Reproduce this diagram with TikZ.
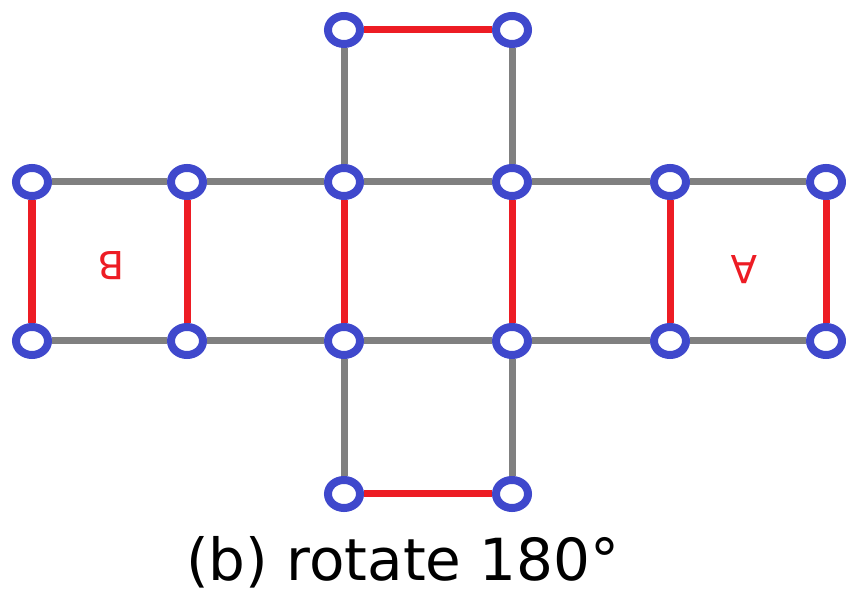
\documentclass[tikz,border=0pt]{standalone}
\usepackage{fontspec}
\setmainfont{DejaVu Sans}
\usetikzlibrary{shapes.geometric}
\definecolor{VertexBlue}{RGB}{63,72,204}
\definecolor{EdgeGray}{RGB}{128,128,128}
\definecolor{EdgeRed}{RGB}{237,28,36}

\begin{document}
\begin{tikzpicture}[x=0.01cm,y=-0.01cm,
  vertex/.style={draw=VertexBlue, ellipse, line width=0.08cm, fill=white, minimum width=0.32cm, minimum height=0.28cm, inner sep=0pt},
  grayedge/.style={EdgeGray, line width=0.07cm},
  rededge/.style={EdgeRed, line width=0.07cm}]
  \useasboundingbox (0,0) rectangle (846,595);

  % vertices
  \node[vertex] (t2) at (344,30) {};
  \node[vertex] (t3) at (512,30) {};
  \node[vertex] (a0) at (32,182) {};
  \node[vertex] (a1) at (187,182) {};
  \node[vertex] (a2) at (344,182) {};
  \node[vertex] (a3) at (512,182) {};
  \node[vertex] (a4) at (670,182) {};
  \node[vertex] (a5) at (826,182) {};
  \node[vertex] (b0) at (32,341) {};
  \node[vertex] (b1) at (187,341) {};
  \node[vertex] (b2) at (344,341) {};
  \node[vertex] (b3) at (512,341) {};
  \node[vertex] (b4) at (670,341) {};
  \node[vertex] (b5) at (826,341) {};
  \node[vertex] (d2) at (344,494) {};
  \node[vertex] (d3) at (512,494) {};

  % gray edges
  \draw[grayedge] (a0) -- (a1);
  \draw[grayedge] (a1) -- (a2);
  \draw[grayedge] (a2) -- (a3);
  \draw[grayedge] (a3) -- (a4);
  \draw[grayedge] (a4) -- (a5);
  \draw[grayedge] (b0) -- (b1);
  \draw[grayedge] (b1) -- (b2);
  \draw[grayedge] (b2) -- (b3);
  \draw[grayedge] (b3) -- (b4);
  \draw[grayedge] (b4) -- (b5);
  \draw[grayedge] (t2) -- (a2);
  \draw[grayedge] (t3) -- (a3);
  \draw[grayedge] (b2) -- (d2);
  \draw[grayedge] (b3) -- (d3);

  % red edges
  \draw[rededge] (t2) -- (t3);
  \draw[rededge] (d2) -- (d3);
  \draw[rededge] (a0) -- (b0);
  \draw[rededge] (a1) -- (b1);
  \draw[rededge] (a2) -- (b2);
  \draw[rededge] (a3) -- (b3);
  \draw[rededge] (a4) -- (b4);
  \draw[rededge] (a5) -- (b5);

  % face labels
  \node[EdgeRed, rotate=180, font=\fontsize{11}{13}\selectfont] (labelB) at (111,266) {B};
  \node[EdgeRed, rotate=180, font=\fontsize{11}{13}\selectfont] (labelA) at (744,270) {A};

  \node[font=\fontsize{16.5}{19}\selectfont] (caption) at (403,562) {(b) rotate 180°};
\end{tikzpicture}
\end{document}
